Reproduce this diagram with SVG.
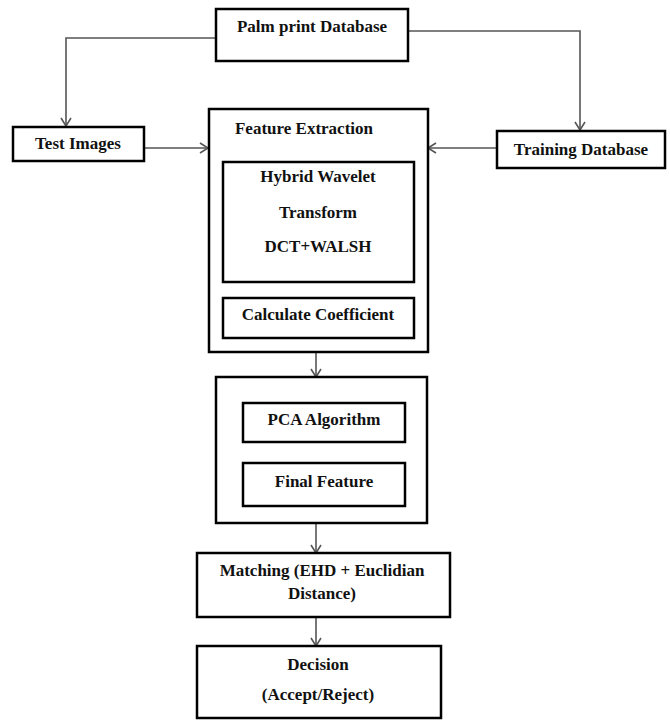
<svg xmlns="http://www.w3.org/2000/svg" width="670" height="720" viewBox="0 0 670 720">
<style>
.box{fill:#fff;stroke:#000;stroke-width:2.5}
.t{font-family:'Liberation Serif','Times New Roman',serif;font-weight:bold;font-size:17px;fill:#111;text-anchor:middle}
.c{fill:none;stroke:#555;stroke-width:1.6}
</style>
<defs>
<marker id="ah" markerUnits="userSpaceOnUse" markerWidth="12" markerHeight="12" refX="9" refY="6" orient="auto">
<path d="M1,1 L9,6 L1,11" fill="none" stroke="#555" stroke-width="1.6"/>
</marker>
</defs>
<rect width="670" height="720" fill="#fff"/>
<g id="connectors">
<polyline class="c" points="216,38 66,38 66,126" marker-end="url(#ah)"/>
<polyline class="c" points="408,31 580,31 580,130" marker-end="url(#ah)"/>
<line class="c" x1="144" y1="148" x2="208" y2="148" marker-end="url(#ah)"/>
<line class="c" x1="497" y1="148" x2="428" y2="148" marker-end="url(#ah)"/>
<line class="c" x1="316" y1="352" x2="316" y2="377" marker-end="url(#ah)"/>
<line class="c" x1="316" y1="523" x2="316" y2="553" marker-end="url(#ah)"/>
<line class="c" x1="316" y1="617" x2="316" y2="646" marker-end="url(#ah)"/>
</g>
<g id="palm">
<rect class="box" x="216" y="9" width="192" height="52"/>
<text class="t" x="312" y="32">Palm print Database</text>
</g>
<g id="test">
<rect class="box" x="13" y="127" width="131" height="34"/>
<text class="t" x="78" y="149">Test Images</text>
</g>
<g id="training">
<rect class="box" x="497" y="131" width="168" height="37"/>
<text class="t" x="581" y="155">Training Database</text>
</g>
<g id="feature-extraction">
<rect class="box" x="209" y="109" width="219" height="243"/>
<text class="t" x="304" y="134">Feature Extraction</text>
</g>
<g id="hybrid">
<rect class="box" x="223" y="162" width="191" height="120"/>
<text class="t" x="318" y="182">Hybrid Wavelet</text>
<text class="t" x="318" y="218">Transform</text>
<text class="t" x="318" y="252">DCT+WALSH</text>
</g>
<g id="calculate">
<rect class="box" x="223" y="298" width="191" height="40"/>
<text class="t" x="318" y="320">Calculate Coefficient</text>
</g>
<g id="pca-group">
<rect class="box" x="216" y="377" width="211" height="146"/>
</g>
<g id="pca">
<rect class="box" x="243" y="403" width="162" height="39"/>
<text class="t" x="324" y="425">PCA Algorithm</text>
</g>
<g id="final">
<rect class="box" x="243" y="463" width="162" height="43"/>
<text class="t" x="324" y="487">Final Feature</text>
</g>
<g id="matching">
<rect class="box" x="197" y="553" width="253" height="64"/>
<text class="t" x="322" y="576">Matching (EHD + Euclidian</text>
<text class="t" x="322" y="599">Distance)</text>
</g>
<g id="decision">
<rect class="box" x="197" y="646" width="244" height="72"/>
<text class="t" x="318" y="670">Decision</text>
<text class="t" x="318" y="700">(Accept/Reject)</text>
</g>
</svg>
